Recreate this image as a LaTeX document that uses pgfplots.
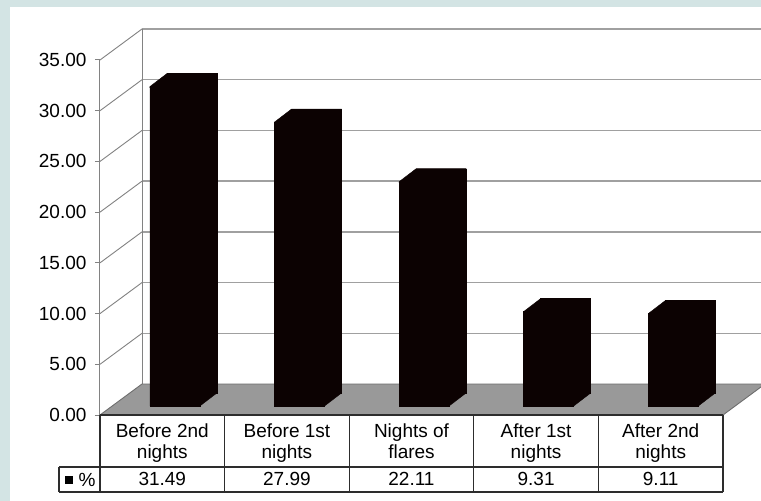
\documentclass[border=0pt]{standalone}
\usepackage{pgfplots}
\pgfplotsset{compat=1.18}
\usepackage{pgfplotstable}
\usepackage{fontspec}
\setmainfont{Liberation Sans}

\definecolor{framebg}{RGB}{211,228,228}
\definecolor{barc}{RGB}{12,2,2}
\definecolor{floorc}{RGB}{153,153,153}
\definecolor{flooredge}{RGB}{110,110,110}
\definecolor{gridc}{RGB}{160,160,160}
\definecolor{wallc}{RGB}{130,130,130}
\definecolor{tablec}{RGB}{45,45,45}

\newcommand{\chartfont}{\fontsize{19}{21}\selectfont}

% share of events (%) in each period
\pgfplotstableread{
i v
0 31.49
1 27.99
2 22.11
3 9.31
4 9.11
}\flares

% top face of a box, relative to (category centre, value) on the front plane
\pgfdeclareplotmark{boxtop}{%
  \pgfpathmoveto{\pgfpoint{-12.4pt}{8pt}}%
  \pgfpathlineto{\pgfpoint{-12.4pt}{9pt}}%
  \pgfpathlineto{\pgfpoint{4.6pt}{22pt}}%
  \pgfpathlineto{\pgfpoint{54.6pt}{22pt}}%
  \pgfpathlineto{\pgfpoint{54.6pt}{20pt}}%
  \pgfpathlineto{\pgfpoint{37.6pt}{8pt}}%
  \pgfpathclose
  \pgfusepathqfillstroke}
% lower corner of the side face, relative to (category centre, 0)
\pgfdeclareplotmark{boxfoot}{%
  \pgfpathmoveto{\pgfpoint{36.6pt}{9pt}}%
  \pgfpathlineto{\pgfpoint{37.6pt}{9pt}}%
  \pgfpathlineto{\pgfpoint{54.6pt}{22pt}}%
  \pgfpathlineto{\pgfpoint{54.6pt}{24pt}}%
  \pgfpathlineto{\pgfpoint{36.6pt}{24pt}}%
  \pgfpathclose
  \pgfusepathqfillstroke}

\begin{document}
\begin{tikzpicture}[x=1pt,y=1pt]
\useasboundingbox (0,0) rectangle (761,501);
\fill[framebg] (0,0) rectangle (761,501);
\fill[white] (10,0) rectangle (761,494);

\begin{axis}[
  at={(100pt,86pt)}, anchor=south west, scale only axis,
  width=623pt, height=355pt,
  xmin=-0.5, xmax=4.5, ymin=0, ymax=35,
  clip=false,
  axis y line*=left, axis x line*=bottom,
  x axis line style={draw=none},
  y axis line style={draw=wallc, line width=1pt},
  xtick={0,...,4},
  xticklabels={{Before 2nd\\nights},{Before 1st\\nights},{Nights of\\flares},{After 1st\\nights},{After 2nd\\nights}},
  xticklabel style={align=center, anchor=north, inner sep=0pt, yshift=-4pt},
  major x tick style={draw=none},
  ytick={0,5,...,35},
  major y tick style={draw=wallc, line width=1pt},
  tick align=outside, major tick length=5pt,
  yticklabel style={xshift=-5pt, /pgf/number format/.cd, fixed, fixed zerofill, precision=2, assume math mode=true},
  ticklabel style={font=\chartfont},
]
% back wall and side wall
\pgfplotsinvokeforeach{5,10,15,20,25,30,35}{
  \draw[gridc, line width=1.4pt] ([shift={(42pt,31pt)}]axis cs:-0.5,#1) -- ([shift={(80pt,31pt)}]axis cs:4.5,#1);
  \draw[wallc, line width=0.9pt] (axis cs:-0.5,#1) -- ([shift={(42pt,31pt)}]axis cs:-0.5,#1);
}
\draw[wallc, line width=0.9pt] ([shift={(42pt,31pt)}]axis cs:-0.5,0) -- ([shift={(42pt,31pt)}]axis cs:-0.5,35);
% floor
\filldraw[fill=floorc, draw=flooredge, line width=0.9pt]
  (axis cs:-0.5,0) -- ([shift={(42pt,31pt)}]axis cs:-0.5,0)
  -- ([shift={(42pt,31pt)}]axis cs:4.5,0) -- (axis cs:4.5,0) -- cycle;

% boxes: back face, front face, top and lower side corner
\addplot[ybar, bar width=50pt, bar shift=29.6pt, yshift=22pt, fill=barc, draw=barc, line width=0.4pt]
  table[x=i, y=v] {\flares};
\addplot[ybar, bar width=50pt, bar shift=12.6pt, yshift=9pt, fill=barc, draw=barc, line width=0.4pt]
  table[x=i, y=v] {\flares};
\addplot[only marks, mark=boxtop, mark options={fill=barc, draw=barc, line width=0.4pt}]
  table[x=i, y=v] {\flares};
\addplot[only marks, mark=boxfoot, mark options={fill=barc, draw=barc, line width=0.4pt}]
  table[x=i, y expr=0] {\flares};

% value row of the data table
\addplot[draw=none, point meta=explicit,
  nodes near coords={\pgfmathprintnumber[fixed, fixed zerofill, precision=2, assume math mode=true]{\pgfplotspointmeta}},
  nodes near coords style={anchor=center, yshift=-64pt, font=\chartfont}]
  table[x=i, y expr=0, meta=v] {\flares};
\end{axis}

% data table grid
\begin{scope}[tablec, line width=1.1pt]
\draw (100,86) -- (723,86);
\draw (59,34) -- (723,34);
\draw (59,9) -- (723,9);
\draw (59,9) -- (59,34);
\foreach \x in {100,224.6,349.2,473.8,598.4,723}
  \draw (\x,9) -- (\x,86);
\end{scope}
\fill[black] (65,17) rectangle (73,25);
\node[font=\chartfont, inner sep=0pt] at (87,21) {\%};
\end{tikzpicture}
\end{document}
